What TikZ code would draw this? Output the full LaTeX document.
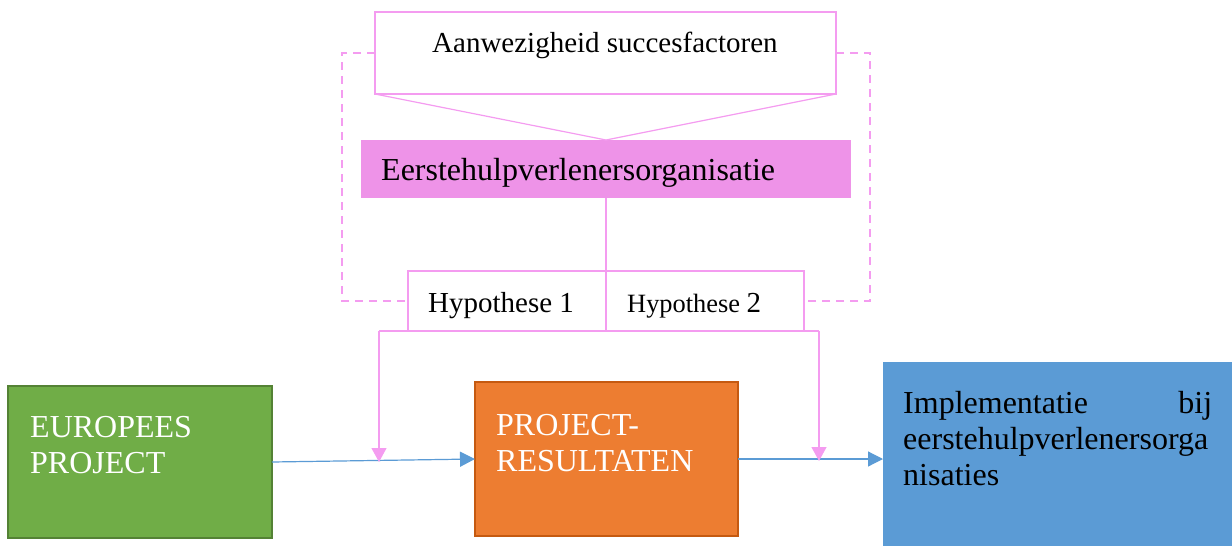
\documentclass[tikz,border=0pt]{standalone}
\usepackage{fontspec}
\setmainfont{Liberation Serif}
\usetikzlibrary{arrows.meta}
\definecolor{pinkline}{HTML}{F49CF0}
\definecolor{pinkfill}{HTML}{EE93E8}
\definecolor{greenfill}{HTML}{70AD47}
\definecolor{greenedge}{HTML}{548235}
\definecolor{orangefill}{HTML}{ED7D31}
\definecolor{orangeedge}{HTML}{C55A11}
\definecolor{bluefill}{HTML}{5B9BD5}
\tikzset{
  box/.style={rectangle, inner sep=0pt, outer sep=0pt, anchor=north west},
  txt/.style={inner sep=0pt, anchor=base west, align=left},
  pinkbox/.style={box, draw=pinkline, fill=white, line width=2.2pt},
  link/.style={draw=pinkline, line width=1.2pt},
  dashlink/.style={draw=pinkline, line width=1.8pt, dash pattern=on 8pt off 6pt},
  flow/.style={draw=bluefill, line width=1.2pt, -{Triangle[width=15pt,length=15pt]}},
  drop/.style={draw=pinkline, line width=1.2pt, -{Triangle[width=15pt,length=14pt]}},
  big/.style={font=\fontsize{32}{36}\selectfont},
  mid/.style={font=\fontsize{29}{36}\selectfont},
}
\begin{document}
\begin{tikzpicture}[x=1pt, y=-1pt]
\useasboundingbox (0,0) rectangle (1232,546);

% upper part: success factors, organisation, hypotheses
\node[pinkbox, minimum width=461pt, minimum height=82pt] (top) at (375,12) {};
\node[txt, mid] (toptxt) at (432,52) {Aanwezigheid succesfactoren};

\node[box, fill=pinkfill, minimum width=490pt, minimum height=58pt] (org) at (361,140) {};
\node[txt, big] (orgtxt) at (381,180) {Eerstehulpverlenersorganisatie};

\node[box, draw=pinkline, line width=1.6pt, minimum width=198pt, minimum height=60pt] (h1) at (408,271) {};
\node[box, draw=pinkline, line width=2.6pt, minimum width=198pt, minimum height=60pt] (h2) at (606,271) {};
\node[txt, mid] (h1txt) at (428,312) {Hypothese 1};
\node[txt] (h2txt) at (627,312) {\fontsize{26.4}{30}\selectfont Hypothese \fontsize{29}{30}\selectfont 2};

\draw[link] (top.south west) -- (org.north) -- (top.south east);
\draw[link] (org.south) -- (org.south |- h1.north);
\draw[dashlink] (top.west) -- ++(-33,0) |- (h1.west);
\draw[dashlink] (top.east) -- ++(34,0) |- (h2.east);

% lower part: project flow
\node[box, fill=greenfill, draw=greenedge, line width=1.5pt, minimum width=264pt, minimum height=152pt] (eu) at (8,386) {};
\node[txt, big, text=white] (eutxt) at (30,473) {EUROPEES\\PROJECT};

\node[box, fill=orangefill, draw=orangeedge, line width=1.5pt, minimum width=263pt, minimum height=154pt] (res) at (475,382) {};
\node[txt, big, text=white] (restxt) at (496,471) {PROJECT-\\RESULTATEN};

\node[box, fill=bluefill, minimum width=349pt, minimum height=184pt] (impl) at (883,362) {};
\node[txt, big, text width=309pt] (impltxt) at (903,413) {Implementatie\hfill bij\\eerstehulpverlenersorga\\nisaties};

\draw[flow] (eu.east) -- (res.west);
\draw[flow] (res.east) -- (res.east -| impl.west);

% hypotheses acting on both transitions
\coordinate (hl) at (379,331);
\coordinate (hr) at (819,331);
\coordinate (hlend) at (379,462);
\coordinate (hrend) at (819,461);
\draw[link] (hl) -- (hr);
\draw[drop] (hl) -- (hlend);
\draw[drop] (hr) -- (hrend);
\end{tikzpicture}
\end{document}
